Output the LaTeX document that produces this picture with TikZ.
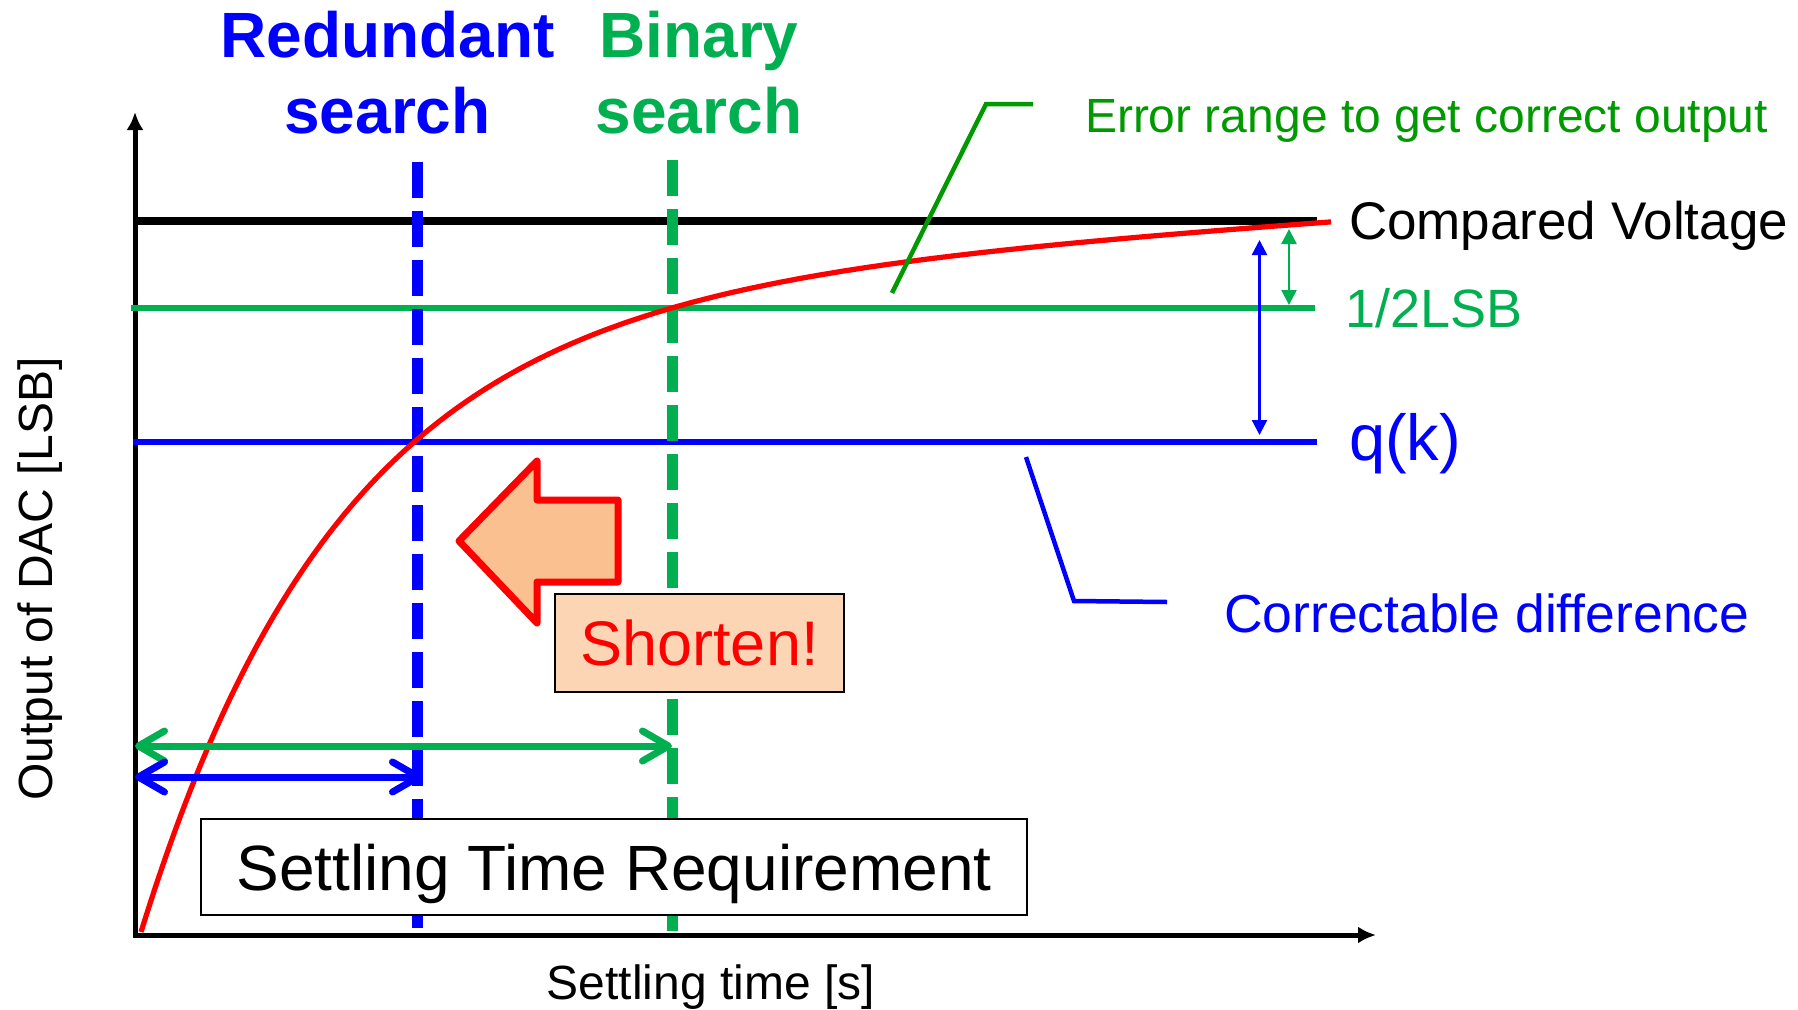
\documentclass[tikz,border=0pt]{standalone}
\usepackage{fontspec}
\setmainfont{Liberation Sans}
\usetikzlibrary{arrows.meta}
\definecolor{pblue}{HTML}{0000FF}
\definecolor{pgreen}{HTML}{00B050}
\definecolor{dgreen}{HTML}{009900}
\definecolor{pred}{HTML}{FF0000}
\definecolor{arrowfill}{HTML}{FAC090}
\definecolor{boxfill}{HTML}{FCD5B5}
\newcommand\fsz[1]{\fontsize{#1pt}{#1pt}\selectfont}
\newcommand\fszl[2]{\fontsize{#1pt}{#2pt}\selectfont}

\begin{document}
\begin{tikzpicture}[x=1pt,y=-1pt,
  lbl/.style={inner sep=0pt, outer sep=0pt},
  axisline/.style={line width=5pt, line join=miter,
    {Latex[length=18pt,width=17pt]}-{Latex[length=18pt,width=17pt]}},
  levelline/.style={line width=6pt},
  searchline/.style={line width=11pt, dash pattern=on 36pt off 13pt},
  spanarrow/.style={line width=7pt,
    {Straight Barb[length=26pt,width=30pt,round]}-{Straight Barb[length=26pt,width=30pt,round]}},
  gaparrow/.style={line width=2.4pt,
    {Triangle[length=15pt,width=15pt]}-{Triangle[length=15pt,width=15pt]}},
  leader/.style={line width=4.5pt},
  framebox/.style={draw=black, line width=2pt, inner sep=0pt}]
\useasboundingbox (0,0) rectangle (1798,1009);

% axes
\coordinate (ytip) at (135,112);
\coordinate (origin) at (135,935);
\coordinate (xtip) at (1376,935);
\draw[axisline] (ytip) -- (origin) -- (xtip);

% reference levels
\coordinate (cvL) at (135,221);   \coordinate (cvR) at (1317,221);
\coordinate (hlL) at (131,308);   \coordinate (hlR) at (1315,308);
\coordinate (qkL) at (133,441.5); \coordinate (qkR) at (1317,441.5);
\draw[line width=8pt, black] (cvL) -- (cvR);
\draw[levelline, pgreen] (hlL) -- (hlR);
\draw[levelline, pblue] (qkL) -- (qkR);

% settling instants of the two searches
\coordinate (rsT) at (417,162); \coordinate (rsB) at (417,928);
\coordinate (bsT) at (672,160); \coordinate (bsB) at (672,935);
\draw[searchline, pblue] (rsT) -- (rsB);
\draw[searchline, pgreen] (bsT) -- (bsB);

% DAC output settling curve
\draw[pred, line width=5.2pt, line join=round]
  plot[domain=0:1190, samples=240]
  ({141+\x}, {932-633.8*(1-exp(-\x/200))-0.0655*\x});

% required settling times
\coordinate (gaL) at (135,746);  \coordinate (gaR) at (672,746);
\coordinate (baL) at (135,777);  \coordinate (baR) at (422,777);
\draw[spanarrow, pgreen] (gaL) -- (gaR);
\draw[spanarrow, pblue] (baL) -- (baR);

% error ranges
\coordinate (qaT) at (1259.5,240); \coordinate (qaB) at (1259.5,435);
\coordinate (haT) at (1289,229);   \coordinate (haB) at (1289,305);
\draw[gaparrow, pblue] (qaT) -- (qaB);
\draw[gaparrow, pgreen] (haT) -- (haB);

% callout leaders
\coordinate (elA) at (892,293); \coordinate (elB) at (986,104); \coordinate (elC) at (1033,104);
\coordinate (clA) at (1026,457); \coordinate (clB) at (1074,601); \coordinate (clC) at (1167,602);
\draw[leader, dgreen] (elA) -- (elB) -- (elC);
\draw[leader, pblue] (clA) -- (clB) -- (clC);

% block arrow pointing left
\draw[pred, line width=7pt, line join=round, fill=arrowfill]
  (459,541) -- (537,461) -- (537,500) -- (618,500) -- (618,582)
  -- (537,582) -- (537,623) -- cycle;

% boxes
\node[framebox, fill=boxfill, minimum width=289pt, minimum height=98pt,
  text=pred, font=\fsz{63}] (shorten) at (699.5,643) {Shorten!};
\node[framebox, fill=white, minimum width=826pt, minimum height=96pt,
  text depth=0pt, font=\fsz{64}] (req) at (614,867) {Settling Time Requirement};

% labels
\node[lbl, align=center, text=pblue, font=\fszl{64}{76}\bfseries]
  (redund) at (387.5,73) {Redundant\\search};
\node[lbl, align=center, text=pgreen, font=\fszl{64}{76}\bfseries]
  (binary) at (699,73) {Binary\\search};
\node[lbl, anchor=base west, text=dgreen, font=\fsz{48}]
  (errtxt) at (1085,132) {Error range to get correct output};
\node[lbl, anchor=base west, font=\fsz{53}]
  (cvtxt) at (1349,239) {Compared Voltage};
\node[lbl, anchor=base west, text=pgreen, font=\fsz{54}]
  (hltxt) at (1345,327) {1/2LSB};
\node[lbl, anchor=base west, text=pblue, font=\fsz{65}]
  (qktxt) at (1349,460) {q(k)};
\node[lbl, anchor=base west, text=pblue, font=\fsz{53.5}]
  (cdtxt) at (1224,632) {Correctable difference};
\node[lbl, anchor=base, font=\fsz{48}]
  (xlabel) at (711,999) {Settling time [s]};
\node[lbl, anchor=base, rotate=90, font=\fsz{48}]
  (ylabel) at (52,579) {Output of DAC [LSB]};
\end{tikzpicture}
\end{document}
